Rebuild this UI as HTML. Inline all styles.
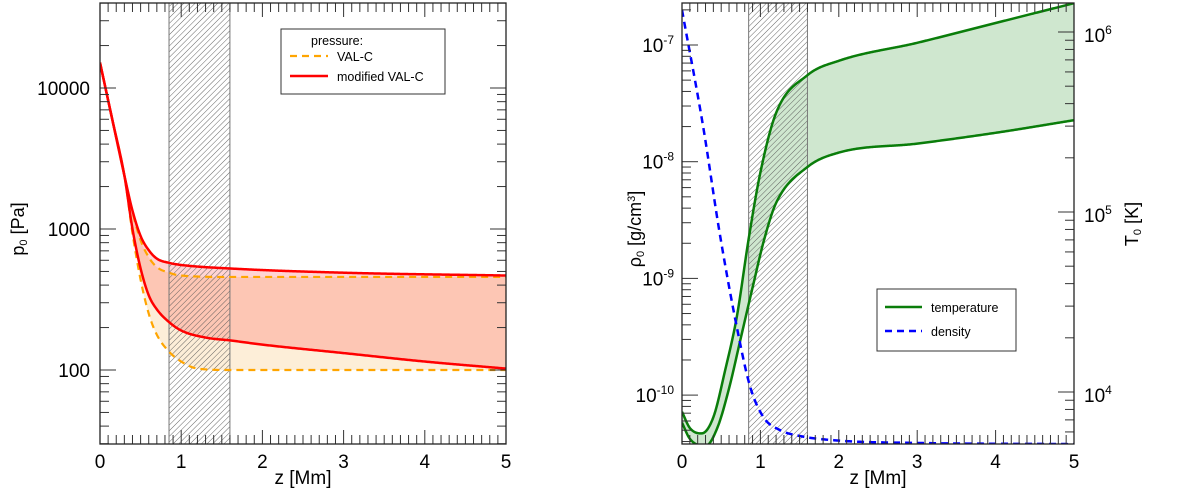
<!DOCTYPE html>
<html><head><meta charset="utf-8"><style>
body{margin:0;background:#fff;}
svg{display:block;font-family:"Liberation Sans","DejaVu Sans",sans-serif;}
</style></head><body>
<svg id="fig" width="1200" height="491" viewBox="0 0 1200 491">
<defs>
<pattern id="hatch" patternUnits="userSpaceOnUse" width="4" height="4" patternTransform="rotate(45)">
<line x1="0" y1="0" x2="0" y2="4" stroke="#555" stroke-width="0.9"/>
</pattern>
</defs>
</svg>
<script>
// ---- Left panel data (pressure, log10 Pa) ----
const zModUp = [0,0.15,0.3,0.4,0.5,0.6,0.7,0.85,1.0,1.6,3,5];
const pModUp = [4.18,3.78,3.38,3.13,2.95,2.85,2.79,2.76,2.745,2.72,2.69,2.67];
const zModLo = [0,0.15,0.3,0.4,0.5,0.6,0.7,0.85,1.0,1.3,1.6,2,3,4,5];
const pModLo = [4.18,3.78,3.38,3.0,2.72,2.53,2.43,2.34,2.28,2.23,2.21,2.18,2.12,2.06,2.01];
const zValUp = [0,0.15,0.3,0.4,0.5,0.6,0.7,0.85,1.0,1.6,5];
const pValUp = [4.18,3.78,3.38,3.12,2.92,2.8,2.73,2.69,2.67,2.66,2.66];
const zValLo = [0,0.15,0.3,0.4,0.5,0.6,0.7,0.85,1.0,1.2,1.6,5];
const pValLo = [4.18,3.78,3.38,2.97,2.64,2.40,2.25,2.13,2.06,2.01,2.0,2.0];
const pTickVals = [100,1000,10000];
const pTickLabels = ["100","1000","10000"];
const zTicks = [0,1,2,3,4,5];
// ---- Right panel data ----
const zTUp = [0,0.1,0.25,0.4,0.55,0.7,0.85,1.0,1.2,1.6,2,3,4,5];
const tUp = [3.89,3.80,3.77,3.86,4.12,4.42,4.85,5.22,5.55,5.76,5.84,5.94,6.05,6.16];
const zTLo = [0,0.1,0.3,0.45,0.6,0.75,0.9,1.05,1.2,1.6,2,3,4,5];
const tLo = [3.83,3.74,3.70,3.80,4.02,4.30,4.58,4.85,5.05,5.25,5.33,5.38,5.44,5.51];
const zRho = [0,0.27,0.48,0.70,0.87,1.04,1.25,1.5,2,3,5];
const rho = [-6.70,-7.70,-8.61,-9.42,-9.93,-10.19,-10.30,-10.35,-10.39,-10.41,-10.42];
const rhoExp = [-10,-9,-8,-7];
const tExp = [4,5,6];

const NS="http://www.w3.org/2000/svg";
const svg=document.getElementById('fig');
function el(tag,attrs,parent){const e=document.createElementNS(NS,tag);for(const k in attrs)e.setAttribute(k,attrs[k]);(parent||svg).appendChild(e);return e;}
// monotone cubic interpolation (Fritsch-Carlson)
function mono(xs,ys){const n=xs.length,d=[],m=new Array(n);
  for(let i=0;i<n-1;i++)d.push((ys[i+1]-ys[i])/(xs[i+1]-xs[i]));
  m[0]=d[0];m[n-1]=d[n-2];
  for(let i=1;i<n-1;i++){m[i]=(d[i-1]*d[i]<=0)?0:(d[i-1]+d[i])/2;}
  for(let i=0;i<n-1;i++){if(d[i]==0){m[i]=0;m[i+1]=0;continue;}const a=m[i]/d[i],b=m[i+1]/d[i],s=a*a+b*b;if(s>9){const t=3/Math.sqrt(s);m[i]=t*a*d[i];m[i+1]=t*b*d[i];}}
  return x=>{let i=0;while(i<n-2&&x>xs[i+1])i++;const h=xs[i+1]-xs[i],t=(x-xs[i])/h,t2=t*t,t3=t2*t;
    return (2*t3-3*t2+1)*ys[i]+(t3-2*t2+t)*h*m[i]+(-2*t3+3*t2)*ys[i+1]+(t3-t2)*h*m[i+1];};}
function sample(zs,vs,X,Y){const f=mono(zs,vs);const pts=[];for(let k=0;k<=400;k++){const z=zs[0]+(zs[zs.length-1]-zs[0])*k/400;pts.push([X(z),Y(f(z))]);}return pts;}
function line(p){return "M"+p.map(q=>q[0].toFixed(2)+","+q[1].toFixed(2)).join("L");}
function band(a,b){return line(a)+"L"+b.slice().reverse().map(q=>q[0].toFixed(2)+","+q[1].toFixed(2)).join("L")+"Z";}

function panel(o){
  const g=el('g',{});  
  const clipId=o.name+'-clip';
  const cp=el('clipPath',{id:clipId},g); el('rect',{x:o.x0,y:o.y0,width:o.x1-o.x0,height:o.y1-o.y0},cp);
  const X=z=>o.x0+z/5*(o.x1-o.x0);
  const inner=el('g',{'clip-path':`url(#${clipId})`},g);
  return {g,inner,X};
}

// ---------- LEFT ----------
const L={x0:100,x1:506,y0:3,y1:444,name:'pressure-panel'};
const lp=panel(L);const XL=lp.X;
const YL=v=>88-(v-4)*141;
const mU=sample(zModUp,pModUp,XL,YL), mL=sample(zModLo,pModLo,XL,YL), vU=sample(zValUp,pValUp,XL,YL), vL=sample(zValLo,pValLo,XL,YL);
let e;
e=el('path',{d:band(vU,vL),fill:'#fdeed8'},lp.inner);

e=el('path',{d:band(mU,mL),fill:'rgba(255,40,40,0.2)'},lp.inner);

e=el('rect',{x:XL(0.85),y:L.y0,width:XL(1.6)-XL(0.85),height:L.y1-L.y0,fill:'url(#hatch)',stroke:'#777','stroke-width':1},lp.inner);

e=el('path',{d:line(vU),fill:'none',stroke:'#ffa500','stroke-width':2.2,'stroke-dasharray':'7,5'},lp.inner);

e=el('path',{d:line(vL),fill:'none',stroke:'#ffa500','stroke-width':2.2,'stroke-dasharray':'7,5'},lp.inner);

e=el('path',{d:line(mU),fill:'none',stroke:'#ff0000','stroke-width':2.5},lp.inner);

e=el('path',{d:line(mL),fill:'none',stroke:'#ff0000','stroke-width':2.5},lp.inner);


function xTicks(P,X,g){
  for(let i=0;i<=50;i++){const z=i/10;const x=X(z);const len=(i%10==0)?14:9;
    el('line',{x1:x,y1:P.y1,x2:x,y2:P.y1-len,stroke:'#333','stroke-width':1},g);
    el('line',{x1:x,y1:P.y0,x2:x,y2:P.y0+len,stroke:'#333','stroke-width':1},g);}
  zTicks.forEach(z=>{const t=el('text',{x:X(z),y:P.y1+24,'text-anchor':'middle','font-size':19},g);t.textContent=z;
    });
  const t=el('text',{x:(P.x0+P.x1)/2,y:484,'text-anchor':'middle','font-size':19},g);t.textContent='z [Mm]';
  
}
function logTicks(P,Y,lo,hi,side,g){
  for(let d=Math.floor(lo);d<=Math.ceil(hi);d++){for(let m=1;m<10;m++){const v=d+Math.log10(m);const y=Y(v);if(y<P.y0||y>P.y1)continue;
    const len=m==1?16:9;
    if(side.includes('l'))el('line',{x1:P.x0,y1:y,x2:P.x0+len,y2:y,stroke:'#333','stroke-width':1},g);
    if(side.includes('r'))el('line',{x1:P.x1,y1:y,x2:P.x1-len,y2:y,stroke:'#333','stroke-width':1},g);}}
}
xTicks(L,XL,lp.g);
logTicks(L,YL,1,5,'lr',lp.g);
pTickVals.forEach((v,i)=>{const t=el('text',{x:90,y:YL(Math.log10(v))+7,'text-anchor':'end','font-size':19},lp.g);t.textContent=pTickLabels[i];
  });
e=el('rect',{x:L.x0,y:L.y0,width:L.x1-L.x0,height:L.y1-L.y0,fill:'none',stroke:'#222','stroke-width':1.3},lp.g);

e=el('text',{x:0,y:0,transform:'translate(24,229) rotate(-90)','text-anchor':'middle','font-size':18},lp.g);
e.innerHTML='p<tspan font-size="11" dy="3">0</tspan><tspan dy="-3"> [Pa]</tspan>';

const lg=el('g',{},lp.g);
el('rect',{x:281,y:29,width:164,height:65,fill:'#fff',stroke:'#333','stroke-width':1},lg);
e=el('text',{x:311,y:45,'font-size':12.5},lg);e.textContent='pressure:';
el('line',{x1:290,y1:56,x2:328,y2:56,stroke:'#ffa500','stroke-width':2.2,'stroke-dasharray':'7,5'},lg);
e=el('text',{x:337,y:61,'font-size':12.5},lg);e.textContent='VAL-C';

el('line',{x1:290,y1:76,x2:328,y2:76,stroke:'#ff0000','stroke-width':2.5},lg);
e=el('text',{x:337,y:81,'font-size':12.5},lg);e.textContent='modified VAL-C';


// ---------- RIGHT ----------
const R={x0:682,x1:1074,y0:3,y1:444,name:'density-temperature-panel'};
const rp=panel(R);const XR=rp.X;
const YR=v=>45-(v+7)*116.7;
const YT=v=>32-(v-6)*180;
const tU=sample(zTUp,tUp,XR,YT), tL=sample(zTLo,tLo,XR,YT), rh=sample(zRho,rho,XR,YR);
e=el('path',{d:band(tU,tL),fill:'rgba(0,128,0,0.19)'},rp.inner);

e=el('rect',{x:XR(0.85),y:R.y0,width:XR(1.6)-XR(0.85),height:R.y1-R.y0,fill:'url(#hatch)',stroke:'#777','stroke-width':1},rp.inner);

e=el('path',{d:line(tU),fill:'none',stroke:'#0a7d0a','stroke-width':2.5},rp.inner);

e=el('path',{d:line(tL),fill:'none',stroke:'#0a7d0a','stroke-width':2.5},rp.inner);

e=el('path',{d:line(rh),fill:'none',stroke:'#0000ff','stroke-width':2.5,'stroke-dasharray':'7,5'},rp.inner);

xTicks(R,XR,rp.g);
logTicks(R,YR,-11,-6,'l',rp.g);
logTicks(R,YT,3,7,'r',rp.g);
rhoExp.forEach(v=>{const t=el('text',{x:674,y:YR(v)+7,'text-anchor':'end','font-size':19},rp.g);
  t.innerHTML=`10<tspan font-size="12" dy="-8">${v}</tspan>`;
  });
tExp.forEach(v=>{const t=el('text',{x:1084,y:YT(v)+10,'text-anchor':'start','font-size':19},rp.g);
  t.innerHTML=`10<tspan font-size="12" dy="-8">${v}</tspan>`;
  });
e=el('rect',{x:R.x0,y:R.y0,width:R.x1-R.x0,height:R.y1-R.y0,fill:'none',stroke:'#222','stroke-width':1.3},rp.g);

e=el('text',{x:0,y:0,transform:'translate(641,229) rotate(-90)','text-anchor':'middle','font-size':18},rp.g);
e.innerHTML='ρ<tspan font-size="11" dy="3">0</tspan><tspan dy="-3"> [g/cm</tspan><tspan font-size="11" dy="-6">3</tspan><tspan dy="6">]</tspan>';

e=el('text',{x:0,y:0,transform:'translate(1138,224) rotate(-90)','text-anchor':'middle','font-size':18},rp.g);
e.innerHTML='T<tspan font-size="11" dy="3">0</tspan><tspan dy="-3"> [K]</tspan>';

const rg=el('g',{},rp.g);
el('rect',{x:877,y:289,width:139,height:62,fill:'#fff',stroke:'#333','stroke-width':1},rg);
el('line',{x1:885,y1:307,x2:922,y2:307,stroke:'#0a7d0a','stroke-width':2.5},rg);
e=el('text',{x:931,y:312,'font-size':12.5},rg);e.textContent='temperature';

el('line',{x1:885,y1:331,x2:922,y2:331,stroke:'#0000ff','stroke-width':2.5,'stroke-dasharray':'7,5'},rg);
e=el('text',{x:931,y:336,'font-size':12.5},rg);e.textContent='density';

</script>
</body></html>
